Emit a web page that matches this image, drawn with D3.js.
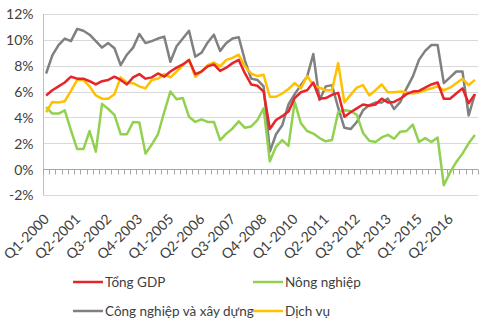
<!DOCTYPE html>
<html><head><meta charset="utf-8">
<script src="https://cdn.jsdelivr.net/npm/d3@7"></script>
<style>body{margin:0;background:#fff}svg{display:block}text{font-family:Lato,"Liberation Sans",sans-serif;fill:#404040}</style>
</head><body><svg id="c" width="500" height="329"></svg>
<script>
const quarters = [];
for (let y = 2000; y <= 2017; y++) for (let q = 1; q <= 4; q++) quarters.push("Q" + q + "-" + y);
const categories = quarters.slice(0, 70);
const tickLabelEvery = 5;
const yTicks = [-2, 0, 2, 4, 6, 8, 10, 12];

const tongGDP = [5.7,6.1,6.4,6.7,7.15,7.0,7.0,6.8,6.55,6.8,6.9,7.15,6.9,6.55,7.1,7.35,7.0,7.1,7.4,7.15,
 7.55,7.85,8.1,8.45,7.35,7.55,7.95,8.1,7.6,7.85,8.2,8.45,7.4,6.55,6.45,6.0,3.1,3.8,4.1,4.45,
 5.5,5.95,6.1,6.7,5.45,5.5,5.75,5.9,4.05,4.4,4.7,5.0,4.9,5.0,5.45,5.15,5.2,5.45,5.8,6.0,
 6.05,6.3,6.55,6.7,5.45,5.45,5.85,6.25,5.1,5.8];
const nongNghiep = [4.8,4.3,4.3,4.55,3.0,1.55,1.55,2.95,1.35,5.05,4.65,4.2,2.7,2.7,3.65,3.6,1.2,1.9,2.7,4.4,
 6.0,5.4,5.5,4.05,3.65,3.85,3.65,3.65,2.25,2.75,3.15,3.7,3.2,3.3,3.8,4.7,0.6,1.75,2.25,1.8,
 5.2,3.55,2.95,2.75,2.4,2.15,2.25,4.4,4.55,4.5,4.2,2.8,2.2,2.1,2.45,2.65,2.35,2.9,2.95,3.45,
 2.1,2.4,2.1,2.45,-1.25,-0.25,0.55,1.2,2.0,2.65];
const congNghiep = [7.4,8.8,9.6,10.1,9.9,10.85,10.7,10.4,9.9,9.4,9.75,9.35,8.05,8.85,9.4,10.45,9.75,9.9,10.1,10.25,
 8.3,9.5,10.1,10.7,8.7,9.0,9.8,10.4,9.15,9.75,10.1,10.2,8.4,7.0,6.9,6.4,1.35,2.7,3.4,5.0,
 5.8,6.5,7.15,8.9,5.35,6.4,6.5,4.75,3.2,3.1,3.65,4.55,4.95,5.15,5.15,5.45,4.65,5.2,6.25,7.15,
 8.45,9.15,9.6,9.6,6.65,7.1,7.55,7.55,4.15,5.8];
const dichVu = [4.4,5.2,5.15,5.25,6.05,6.9,6.9,6.4,5.7,5.45,5.45,5.8,7.1,6.7,6.65,6.4,6.25,6.9,7.0,7.35,
 7.1,7.55,8.05,8.45,7.15,7.55,8.05,8.25,7.95,8.45,8.6,8.85,7.95,7.4,7.2,7.3,5.6,5.6,5.85,6.2,
 6.65,6.25,7.2,6.5,6.3,6.1,6.1,8.2,5.15,5.75,6.3,6.5,5.7,6.1,6.55,5.95,5.95,6.0,5.95,5.85,
 5.95,6.1,6.25,6.4,6.1,6.3,6.65,7.0,6.5,6.9];

const seriesNames = ["Tổng GDP", "Nông nghiệp", "Công nghiệp và xây dựng", "Dịch vụ"];
const seriesColors = ["#E8242B", "#92D050", "#808080", "#FFC000"];
const seriesValues = [tongGDP, nongNghiep, congNghiep, dichVu];
const drawOrder = [2, 1, 3, 0];

const svg = d3.select("#c");
const x = d3.scaleBand().domain(categories).range([43, 478]).padding(0);
const y = d3.scaleLinear().domain([-2, 12]).range([195, 14]);
const cx = c => x(c) + x.bandwidth() / 2;

// gridlines
svg.append("g").selectAll("line").data(yTicks).join("line")
  .attr("x1", 43).attr("x2", 478).attr("y1", d => Math.round(y(d)) + 0.5).attr("y2", d => Math.round(y(d)) + 0.5)
  .attr("stroke", "#d9d9d9").attr("stroke-width", 1);

// y axis
const yAxis = d3.axisLeft(y).tickValues(yTicks).tickFormat(d => d + "%").tickSize(0).tickPadding(10);
const gy = svg.append("g").attr("transform", "translate(43.5,0)").call(yAxis);
gy.select(".domain").attr("stroke", "#bfbfbf").attr("d", `M0,${y(12)}V${y(-2)}`);
gy.selectAll("text").style("font-size", "14px").attr("dy", "0.35em");

// x axis at 0%
const y0 = Math.round(y(0)) + 0.5;
const gx = svg.append("g");
gx.append("line").attr("x1", 43).attr("x2", 478).attr("y1", y0).attr("y2", y0).attr("stroke", "#a6a6a6");
gx.selectAll("line.t").data(d3.range(categories.length + 1)).join("line").attr("class", "t")
  .attr("x1", k => Math.round(43 + k * x.bandwidth()) + 0.5).attr("x2", k => Math.round(43 + k * x.bandwidth()) + 0.5)
  .attr("y1", y0).attr("y2", y0 + 5).attr("stroke", "#a6a6a6");
svg.append("g").selectAll("text").data(categories.filter((c, i) => i % tickLabelEvery === 0)).join("text")
  .attr("transform", c => `translate(${cx(c) + 4},220) rotate(-45)`)
  .attr("text-anchor", "end").style("font-size", "14px").text(c => c);

// lines
const line = d3.line().x((d, i) => cx(categories[i])).y(d => y(d));
drawOrder.forEach(s => {
  svg.append("path").datum(seriesValues[s]).attr("d", line)
    .attr("fill", "none").attr("stroke", seriesColors[s]).attr("stroke-width", 2.5)
    .attr("stroke-linejoin", "round");
});

// legend
const legendPos = [[73, 282], [253, 282], [73, 311], [253, 311]];
seriesNames.forEach((n, s) => {
  const [lx, ly] = legendPos[s];
  svg.append("line").attr("x1", lx).attr("x2", lx + 30).attr("y1", ly).attr("y2", ly)
    .attr("stroke", seriesColors[s]).attr("stroke-width", 2.5);
  svg.append("text").attr("x", lx + 32).attr("y", ly).attr("dy", "0.35em").style("font-size", "13.5px").text(n);
});
</script></body></html>
